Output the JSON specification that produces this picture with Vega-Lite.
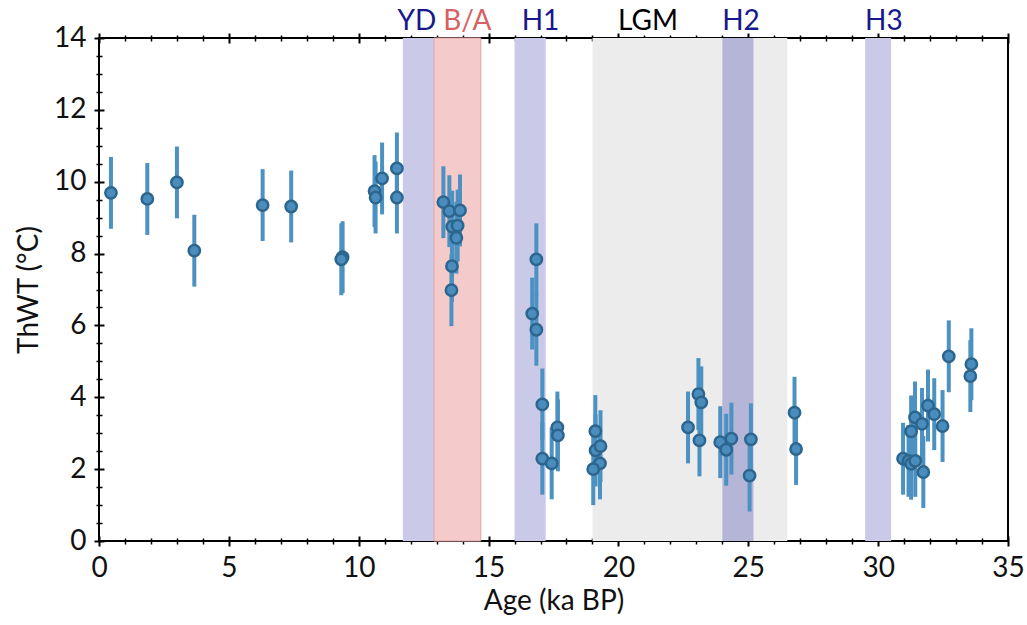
{
  "$schema": "https://vega.github.io/schema/vega-lite/v6.json",
  "width": 909,
  "height": 503,
  "autosize": {"type": "none"},
  "padding": {"left": 99, "top": 38, "right": 20, "bottom": 84},
  "background": "white",
  "config": {
    "view": {"stroke": "black", "strokeWidth": 2},
    "font": "Lato",
    "axis": {"grid": false, "domain": false, "labelFont": "Lato", "titleFont": "Lato", "labelColor": "#111111", "titleColor": "#111111", "tickColor": "black", "titleFontWeight": "normal", "labelFlush": false}
  },
  "datasets": {
    "bands": [
      {"period": "LGM", "start": 19.0, "end": 26.5},
      {"period": "YD", "start": 11.7, "end": 12.9},
      {"period": "B/A", "start": 12.9, "end": 14.7},
      {"period": "H1", "start": 16.0, "end": 17.2},
      {"period": "H2", "start": 24.0, "end": 25.2},
      {"period": "H3", "start": 29.5, "end": 30.5}
    ],
    "labels": [
      {"label": "YD", "pos": 12.24},
      {"label": "B/A", "pos": 14.18},
      {"label": "H1", "pos": 17.0},
      {"label": "LGM", "pos": 21.14},
      {"label": "H2", "pos": 24.72},
      {"label": "H3", "pos": 30.22}
    ],
    "pts": [
      {"age": 0.46, "t": 9.69, "err": 1.0},
      {"age": 1.86, "t": 9.52, "err": 1.0},
      {"age": 3.0, "t": 9.98, "err": 1.0},
      {"age": 3.67, "t": 8.08, "err": 1.0},
      {"age": 6.3, "t": 9.35, "err": 1.0},
      {"age": 7.4, "t": 9.31, "err": 1.0},
      {"age": 9.38, "t": 7.9, "err": 1.0},
      {"age": 9.33, "t": 7.84, "err": 1.0},
      {"age": 10.61, "t": 9.74, "err": 1.0},
      {"age": 10.65, "t": 9.56, "err": 1.0},
      {"age": 10.9, "t": 10.09, "err": 1.0},
      {"age": 11.47, "t": 10.37, "err": 1.0},
      {"age": 11.47, "t": 9.56, "err": 1.0},
      {"age": 13.26, "t": 9.43, "err": 1.0},
      {"age": 13.49, "t": 9.18, "err": 1.0},
      {"age": 13.9, "t": 9.2, "err": 1.0},
      {"age": 13.6, "t": 8.75, "err": 1.0},
      {"age": 13.81, "t": 8.78, "err": 1.0},
      {"age": 13.76, "t": 8.44, "err": 1.0},
      {"age": 13.59, "t": 7.65, "err": 1.0},
      {"age": 13.57, "t": 6.98, "err": 1.0},
      {"age": 16.84, "t": 7.84, "err": 1.0},
      {"age": 16.68, "t": 6.33, "err": 1.0},
      {"age": 16.84, "t": 5.88, "err": 1.0},
      {"age": 17.07, "t": 3.8, "err": 1.0},
      {"age": 17.07, "t": 2.29, "err": 1.0},
      {"age": 17.43, "t": 2.16, "err": 1.0},
      {"age": 17.65, "t": 3.16, "err": 1.0},
      {"age": 17.67, "t": 2.94, "err": 1.0},
      {"age": 19.11, "t": 3.06, "err": 1.0},
      {"age": 19.12, "t": 2.52, "err": 1.0},
      {"age": 19.31, "t": 2.64, "err": 1.0},
      {"age": 19.29, "t": 2.16, "err": 1.0},
      {"age": 19.03, "t": 2.0, "err": 1.0},
      {"age": 22.68, "t": 3.16, "err": 1.0},
      {"age": 23.08, "t": 4.09, "err": 1.0},
      {"age": 23.19, "t": 3.86, "err": 1.0},
      {"age": 23.12, "t": 2.8, "err": 1.0},
      {"age": 23.92, "t": 2.75, "err": 1.0},
      {"age": 24.15, "t": 2.54, "err": 1.0},
      {"age": 24.35, "t": 2.85, "err": 1.0},
      {"age": 25.1, "t": 2.83, "err": 1.0},
      {"age": 25.05, "t": 1.82, "err": 1.0},
      {"age": 26.78, "t": 3.57, "err": 1.0},
      {"age": 26.84, "t": 2.56, "err": 1.0},
      {"age": 30.96, "t": 2.29, "err": 1.0},
      {"age": 31.17, "t": 2.23, "err": 1.0},
      {"age": 31.27, "t": 2.15, "err": 1.0},
      {"age": 31.43, "t": 2.23, "err": 1.0},
      {"age": 31.27, "t": 3.05, "err": 1.0},
      {"age": 31.42, "t": 3.44, "err": 1.0},
      {"age": 31.69, "t": 3.26, "err": 1.0},
      {"age": 31.74, "t": 1.92, "err": 1.0},
      {"age": 31.92, "t": 3.77, "err": 1.0},
      {"age": 32.16, "t": 3.53, "err": 1.0},
      {"age": 32.48, "t": 3.2, "err": 1.0},
      {"age": 32.72, "t": 5.14, "err": 1.0},
      {"age": 33.59, "t": 4.92, "err": 1.0},
      {"age": 33.55, "t": 4.59, "err": 1.0}
    ]
  },
  "layer": [
    {
      "data": {"name": "bands"},
      "mark": {"type": "rect", "opacity": 1},
      "encoding": {
        "x": {"field": "start", "type": "quantitative", "scale": {"domain": [0, 35], "nice": false},
          "axis": {"orient": "bottom", "values": [1,2,3,4,6,7,8,9,11,12,13,14,16,17,18,19,21,22,23,24,26,27,28,29,31,32,33,34], "labels": false, "tickSize": 6, "offset": -3, "tickWidth": 1.5, "title": null}},
        "x2": {"field": "end"},
        "color": {"field": "period", "type": "nominal", "legend": null,
          "scale": {"domain": ["LGM", "YD", "B/A", "H1", "H2", "H3"], "range": ["#ececec", "#cacae8", "#f5caca", "#cacae8", "#b5b5d7", "#cacae8"]}},
        "stroke": {"condition": {"test": "datum.period === 'B/A'", "value": "#e4a3a3"}, "value": null}
      }
    },
    {
      "data": {"name": "pts"},
      "mark": {"type": "errorbar", "thickness": 4, "color": "#4b91c1"},
      "encoding": {
        "x": {"field": "age", "type": "quantitative", "scale": {"domain": [0, 35], "nice": false},
          "axis": {"orient": "bottom", "values": [0,5,10,15,20,25,30,35], "labels": false, "tickSize": 10, "offset": -5, "tickWidth": 2, "title": null}},
        "y": {"field": "t", "type": "quantitative", "scale": {"domain": [0, 14], "nice": false},
          "axis": {"orient": "left", "values": [0,2,4,6,8,10,12,14], "labels": false, "tickSize": 10, "offset": -5, "tickWidth": 2, "title": null}},
        "yError": {"field": "err"}
      }
    },
    {
      "data": {"name": "pts"},
      "mark": {"type": "circle", "size": 128, "color": "#4a8dbd", "stroke": "#2c668e", "strokeWidth": 2.5, "opacity": 1},
      "encoding": {
        "x": {"field": "age", "type": "quantitative",
          "axis": {"orient": "bottom", "values": [0,5,10,15,20,25,30,35], "ticks": false, "labelFontSize": 28, "labelPadding": 13, "title": "Age (ka BP)", "titleFontSize": 28, "titlePadding": 5}},
        "y": {"field": "t", "type": "quantitative",
          "axis": {"orient": "left", "values": [0,2,4,6,8,10,12,14], "ticks": false, "labelFontSize": 28, "labelPadding": 13, "title": "ThWT (°C)", "titleFontSize": 28, "titlePadding": 10}}
      }
    },
    {
      "data": {"name": "pts"},
      "mark": {"type": "circle", "opacity": 0},
      "encoding": {
        "x": {"field": "age", "type": "quantitative",
          "axis": {"orient": "top", "values": [0,5,10,15,20,25,30,35], "labels": false, "tickSize": 10, "offset": -5, "tickWidth": 2, "title": null}},
        "y": {"field": "t", "type": "quantitative",
          "axis": {"orient": "left", "values": [0.5,1,1.5,2.5,3,3.5,4.5,5,5.5,6.5,7,7.5,8.5,9,9.5,10.5,11,11.5,12.5,13,13.5], "labels": false, "tickSize": 6, "offset": -3, "tickWidth": 1.5, "title": null}}
      }
    },
    {
      "data": {"name": "labels"},
      "mark": {"type": "text", "fontSize": 28, "baseline": "alphabetic", "align": "center", "dy": -8, "font": "Lato"},
      "encoding": {
        "x": {"field": "pos", "type": "quantitative",
          "axis": {"orient": "top", "values": [1,2,3,4,6,7,8,9,11,12,13,14,16,17,18,19,21,22,23,24,26,27,28,29,31,32,33,34], "labels": false, "tickSize": 6, "offset": -3, "tickWidth": 1.5, "title": null}},
        "y": {"datum": 14, "type": "quantitative", "axis": null},
        "text": {"field": "label"},
        "color": {"condition": [
          {"test": "datum.label === 'B/A'", "value": "#d56262"},
          {"test": "datum.label === 'LGM'", "value": "#000000"}
        ], "value": "#18188c"}
      }
    }
  ],
  "resolve": {"axis": {"x": "independent", "y": "independent"}}
}
